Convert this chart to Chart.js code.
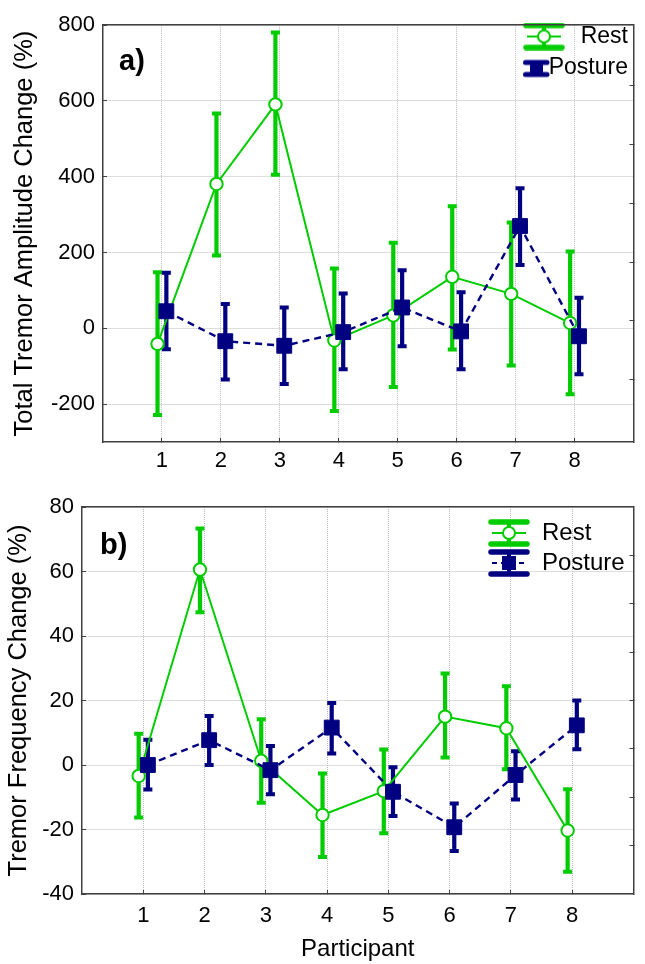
<!DOCTYPE html>
<html><head><meta charset="utf-8">
<script src="https://cdn.jsdelivr.net/npm/chart.js@4.4.1/dist/chart.umd.min.js"></script>
<style>
html,body{margin:0;padding:0;background:#fff;}
#wrap{position:relative;width:645px;height:964px;}
#ca{position:absolute;left:0;top:0;}
#cb{position:absolute;left:0;top:480px;}
</style></head><body>
<div id="wrap"><canvas id="ca" width="645" height="480"></canvas><canvas id="cb" width="645" height="484"></canvas></div>
<script>
// ---------- data ----------
const participants = [1, 2, 3, 4, 5, 6, 7, 8];
const xTicks = [1, 2, 3, 4, 5, 6, 7, 8];
const seriesNames = ['Rest', 'Posture'];

// Panel a: Total Tremor Amplitude Change (%)
const restAmp   = [-41, 381, 591, -32, 34, 136, 91, 14];
const restAmpHi = [148, 567, 781, 158, 226, 322, 279, 203];
const restAmpLo = [-229, 192, 405, -218, -155, -56, -98, -174];
const postAmp   = [45, -34, -46, -10, 55, -8, 270, -21];
const postAmpHi = [147, 64, 55, 92, 153, 95, 370, 81];
const postAmpLo = [-55, -135, -147, -108, -47, -108, 167, -121];
const ampTicks = [-200, 0, 200, 400, 600, 800];
const ampRightTicks = [640, 485, 330, 175, 20, -135];

// Panel b: Tremor Frequency Change (%)
const restFreq   = [-3.4, 60.6, 1.3, -15.5, -8.1, 15.0, 11.4, -20.3];
const restFreqHi = [9.7, 73.3, 14.2, -2.6, 4.8, 28.4, 24.4, -7.5];
const restFreqLo = [-16.3, 47.4, -11.7, -28.5, -21.2, 2.3, -1.3, -33.1];
const postFreq   = [0, 7.7, -1.6, 11.6, -8.3, -19.3, -3.1, 12.3];
const postFreqHi = [7.8, 15.2, 5.9, 19.2, -0.7, -11.9, 4.3, 20.0];
const postFreqLo = [-7.6, 0, -9.1, 3.6, -15.8, -26.7, -10.7, 4.9];
const freqTicks = [-40, -20, 0, 20, 40, 60, 80];
const freqRightTicks = [65, 50, 35, 20, 5, -10, -25];

// ---------- styling ----------
const FONT = '"Liberation Sans", Arial, sans-serif';
const GREEN = '#00cc00';
const NAVY = '#000080';
const GRID = '#bdbdbd';
const AXIS = '#404040';
const TICK = '#404040';
const OFF = 0.075;

function makeGlyph(color, kind) {
  const w = 42, h = 28;
  const c = document.createElement('canvas'); c.width = w; c.height = h;
  const g = c.getContext('2d');
  g.strokeStyle = color; g.fillStyle = color;
  g.lineCap = 'round'; g.lineWidth = 5.5;
  g.beginPath(); g.moveTo(3, 3); g.lineTo(w - 3, 3); g.moveTo(3, h - 3); g.lineTo(w - 3, h - 3); g.stroke();
  g.lineCap = 'butt'; g.lineWidth = 4;
  g.beginPath(); g.moveTo(w / 2, 3); g.lineTo(w / 2, h - 3); g.stroke();
  g.lineWidth = 2;
  if (kind === 'rect') g.setLineDash([5, 4]);
  g.beginPath(); g.moveTo(4, h / 2); g.lineTo(w - 4, h / 2); g.stroke();
  g.setLineDash([]);
  if (kind === 'circle') {
    g.fillStyle = '#fff'; g.lineWidth = 2;
    g.beginPath(); g.arc(w / 2, h / 2, 6, 0, Math.PI * 2); g.fill(); g.stroke();
  } else {
    g.fillRect(w / 2 - 7, h / 2 - 7, 14, 14);
  }
  return c;
}
// squashed glyph used by the panel a legend for Posture
function makeSquashedGlyph(color) {
  const w = 42, h = 28;
  const c = document.createElement('canvas'); c.width = w; c.height = h;
  const g = c.getContext('2d');
  g.strokeStyle = color; g.fillStyle = color;
  g.lineCap = 'round'; g.lineWidth = 5;
  g.beginPath(); g.moveTo(2.5, 9); g.lineTo(24, 9); g.moveTo(2.5, 21); g.lineTo(24, 21); g.stroke();
  g.fillRect(7, 9, 13, 12);
  return c;
}
const glyphsA = { Rest: makeGlyph(GREEN, 'circle'), Posture: makeSquashedGlyph(NAVY) };
const glyphsB = { Rest: makeGlyph(GREEN, 'circle'), Posture: makeGlyph(NAVY, 'rect') };

const legendMover = {
  id: 'legendMover',
  afterLayout(chart, args, opts) {
    const lg = chart.legend; if (!lg) return;
    const pad = chart.options.plugins.legend.labels.padding;
    const w = lg.width, h = lg.height;
    lg.left = opts.x - pad;
    lg.right = opts.right ? opts.right : lg.left + w;
    lg.width = lg.right - lg.left;
    lg.top = opts.y - pad; lg.bottom = lg.top + h;
  }
};
const panelLabel = {
  id: 'panelLabel',
  afterDraw(chart, args, opts) {
    const ctx = chart.ctx; ctx.save();
    ctx.font = 'bold 29px ' + FONT; ctx.fillStyle = '#000'; ctx.textBaseline = 'alphabetic';
    ctx.fillText(opts.text, opts.x, opts.y); ctx.restore();
  }
};

function buildPanel(canvas, cfg) {
  const pts = (vals, d) => vals.map((v, i) => ({ x: participants[i] + d, y: v }));
  const rng = (lo, hi, d) => lo.map((v, i) => ({ x: participants[i] + d, y: [v, hi[i]] }));
  const capSet = (lo, hi, d, color, order) => ({
    type: 'line', data: pts(hi, d).concat(pts(lo, d)), showLine: false,
    pointStyle: 'line', pointRadius: 4.5, pointBorderWidth: 4, pointBorderColor: color,
    borderColor: color, order: order
  });
  const barSet = (lo, hi, d, color, order) => ({
    type: 'bar', data: rng(lo, hi, d), backgroundColor: color, borderWidth: 0,
    maxBarThickness: 4.2, grouped: false, order: order
  });
  const glyphs = cfg.glyphs;
  const datasets = [
    barSet(cfg.restLo, cfg.restHi, -OFF, GREEN, 10),
    capSet(cfg.restLo, cfg.restHi, -OFF, GREEN, 9),
    barSet(cfg.postLo, cfg.postHi, OFF, NAVY, 8),
    capSet(cfg.postLo, cfg.postHi, OFF, NAVY, 7),
    { type: 'line', label: seriesNames[0], data: pts(cfg.rest, -OFF), borderColor: GREEN, borderWidth: 2,
      pointStyle: 'circle', pointRadius: 6.2, pointBorderWidth: 2, pointBackgroundColor: '#fff',
      pointBorderColor: GREEN, tension: 0, order: 2 },
    { type: 'line', label: seriesNames[1], data: pts(cfg.post, OFF), borderColor: NAVY, borderWidth: 2.4,
      borderDash: [7, 5], pointStyle: 'rect', pointRadius: 10.5, pointBorderWidth: 1,
      pointBackgroundColor: NAVY, pointBorderColor: NAVY, tension: 0, order: 1 }
  ];
  const gridCommon = { color: GRID, lineWidth: 1, tickLength: -4, tickColor: TICK, tickWidth: 1 };
  const borderCommon = { display: true, color: AXIS, width: 1.5, dash: [1, 1] };
  return new Chart(canvas, {
    type: 'line',
    data: { datasets },
    plugins: [legendMover, panelLabel],
    options: {
      responsive: false, animation: false, events: [],
      layout: { padding: cfg.padding },
      plugins: {
        tooltip: { enabled: false },
        title: { display: false },
        legendMover: cfg.legendPos,
        panelLabel: cfg.label,
        legend: {
          display: true, position: 'chartArea', align: 'start',
          labels: {
            usePointStyle: true, pointStyleWidth: 42, color: '#000', padding: cfg.legendPad,
            textAlign: cfg.legendTextAlign,
            font: { family: FONT, size: cfg.legendSize },
            generateLabels: (chart) => {
              const items = Chart.defaults.plugins.legend.labels.generateLabels(chart);
              items.forEach(it => { if (glyphs[it.text]) it.pointStyle = glyphs[it.text]; });
              return items;
            },
            filter: (item) => !!glyphs[item.text],
            sort: (a, b) => a.datasetIndex - b.datasetIndex
          }
        }
      },
      scales: {
        x: {
          type: 'linear', position: 'bottom', min: 0, max: 9, offset: false,
          afterBuildTicks: s => { s.ticks = xTicks.map(v => ({ value: v })); },
          ticks: { font: { family: FONT, size: 22 }, color: '#000', padding: cfg.xTickPad, maxRotation: 0 },
          grid: Object.assign({ offset: false }, gridCommon),
          border: borderCommon,
          title: cfg.xTitle ? { display: true, text: cfg.xTitle, color: '#000',
            font: { family: FONT, size: 24 }, padding: { top: 0, bottom: 0 } } : { display: false },
          afterFit: s => { s.height = cfg.xHeight; }
        },
        x2: {
          type: 'linear', position: 'top', min: 0, max: 9, offset: false,
          ticks: { display: false }, grid: { display: false, drawTicks: false },
          border: { display: true, color: AXIS, width: 1.5 },
          afterFit: s => { s.height = 0; }
        },
        y: {
          type: 'linear', position: 'left', min: cfg.yMin, max: cfg.yMax,
          afterBuildTicks: s => { s.ticks = cfg.yTicks.map(v => ({ value: v })); },
          ticks: { font: { family: FONT, size: 22 }, color: '#000', padding: 12 },
          grid: gridCommon,
          border: borderCommon,
          title: { display: true, text: cfg.yTitle, color: '#000', font: { family: FONT, size: 25.5 },
            padding: { top: cfg.yTitlePad, bottom: 0 } },
          afterFit: s => { s.width = cfg.yWidth; }
        },
        y2: {
          type: 'linear', position: 'right', min: cfg.yMin, max: cfg.yMax,
          afterBuildTicks: s => { s.ticks = cfg.yRight.map(v => ({ value: v })); },
          ticks: { display: false },
          grid: { drawOnChartArea: false, tickLength: -4, tickColor: TICK, color: TICK },
          border: { display: true, color: AXIS, width: 1.5 },
          afterFit: s => { s.width = 0; }
        }
      }
    }
  });
}

buildPanel(document.getElementById('ca'), {
  rest: restAmp, restHi: restAmpHi, restLo: restAmpLo,
  post: postAmp, postHi: postAmpHi, postLo: postAmpLo,
  yMin: -300, yMax: 800, yTicks: ampTicks, yRight: ampRightTicks,
  yTitle: 'Total Tremor Amplitude Change (%)', yTitlePad: 10, yWidth: 103,
  xTitle: null, xHeight: 38, xTickPad: 10,
  padding: { top: 17, right: 4, bottom: 0, left: 0 },
  legendPos: { x: 523, y: 25, right: 628 }, legendPad: 8, legendSize: 23, legendTextAlign: 'right',
  glyphs: glyphsA,
  label: { text: 'a)', x: 119, y: 70 }
});

buildPanel(document.getElementById('cb'), {
  rest: restFreq, restHi: restFreqHi, restLo: restFreqLo,
  post: postFreq, postHi: postFreqHi, postLo: postFreqLo,
  yMin: -40, yMax: 80, yTicks: freqTicks, yRight: freqRightTicks,
  yTitle: 'Tremor Frequency Change (%)', yTitlePad: 4, yWidth: 82,
  xTitle: 'Participant', xHeight: 70, xTickPad: 13,
  padding: { top: 27, right: 11, bottom: 0, left: 0 },
  legendPos: { x: 488, y: 41 }, legendPad: 6, legendSize: 24, legendTextAlign: 'left',
  glyphs: glyphsB,
  label: { text: 'b)', x: 100, y: 74 }
});
</script>
</body></html>
